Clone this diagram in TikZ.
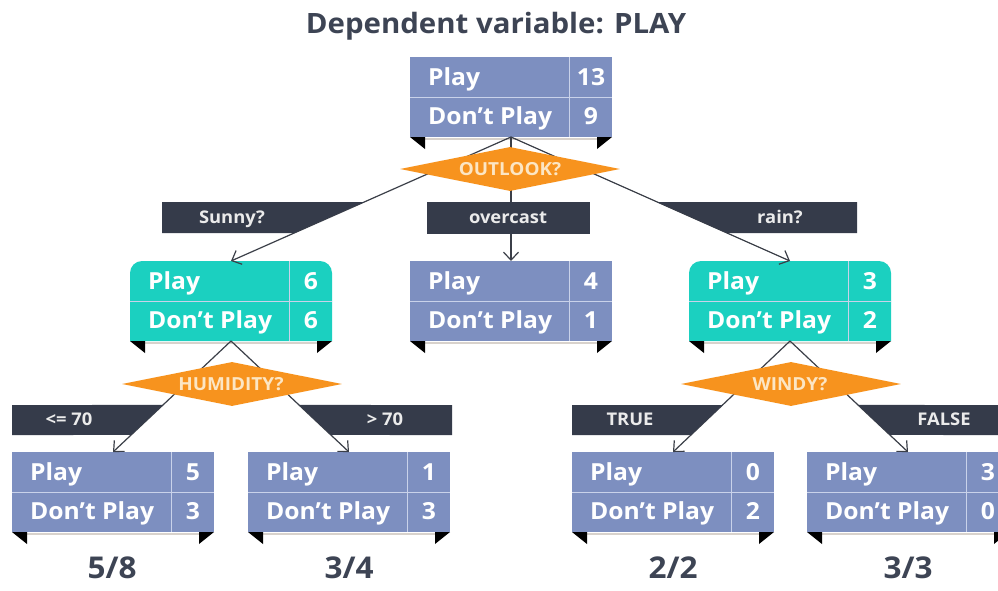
\documentclass[tikz,border=0pt]{standalone}
\usepackage{fontspec}
\setmainfont[FakeStretch=1.05]{Open Sans}
\usetikzlibrary{arrows.meta,shapes.geometric,calc}
\definecolor{boxblue}{HTML}{7D8FC0}
\definecolor{boxteal}{HTML}{1BD0C0}
\definecolor{decor}{HTML}{F7931E}
\definecolor{lab}{HTML}{353B4A}
\definecolor{ink}{HTML}{3D4454}
\definecolor{divl}{HTML}{C9D2EA}
\definecolor{cream}{HTML}{FCE6C4}
\definecolor{edgec}{HTML}{3B3F48}
\definecolor{shade}{HTML}{D8D2CC}
\tikzset{
  tbl/.style={rectangle, minimum width=202pt, minimum height=80pt, inner sep=0pt, outer sep=0pt},
  celltxt/.style={text=white, font=\bfseries\fontsize{23.5}{27}\selectfont, inner sep=0pt},
  labtxt/.style={text=white!92!black, font=\bfseries\fontsize{17.5}{20}\selectfont, inner sep=0pt, anchor=base},
  dectxt/.style={text=cream, font=\bfseries\fontsize{18}{20}\selectfont, inner sep=0pt, anchor=base},
  fractxt/.style={text=ink, font=\bfseries\fontsize{30}{34}\selectfont, inner sep=0pt, anchor=base},
  decision/.style={diamond, fill=decor, minimum width=220pt, minimum height=44pt, inner sep=0pt},
  conn/.style={draw=edgec, line width=1.2pt, -{Straight Barb[length=8pt,width=15pt]}},
  divline/.style={draw=divl, line width=0.8pt},
  shadowline/.style={draw=shade, line width=1.5pt},
}
\newcommand\ptab[7]{%
  \node[tbl] (#1) at (#2,#3) {};
  \fill[#6] (#1.south west) [#7] -- (#1.north west) -- (#1.north east) [sharp corners] -- (#1.south east) -- cycle;
  \draw[divline] (#1.west) -- (#1.east);
  \draw[divline] ($(#1.north east)+(-43,0)$) -- ($(#1.south east)+(-43,0)$);
  \draw[shadowline] ($(#1.south west)+(15,2)$) -- ($(#1.south east)+(-15,2)$);
  \fill[black] (#1.south west) -- ++(15,0) -- ++(0,12) -- cycle;
  \fill[black] (#1.south east) -- ++(-15,0) -- ++(0,12) -- cycle;
  \node[celltxt, anchor=base west] (#1-pl) at ($(#1.north west)+(18,28)$) {Play};
  \node[celltxt, anchor=base west] (#1-dp) at ($(#1.north west)+(18,67)$) {Don’t Play};
  \node[celltxt, anchor=base] (#1-na) at ($(#1.north east)+(-21,28)$) {#4};
  \node[celltxt, anchor=base] (#1-nb) at ($(#1.north east)+(-21,67)$) {#5};
}
\begin{document}
\begin{tikzpicture}[x=1pt,y=-1pt]
\fill[white] (0,0) rectangle (998,590);
\useasboundingbox (0,0) rectangle (998,590);
\clip (0,0) rectangle (998,590);

\node[text=ink, font=\bfseries\fontsize{28}{32}\selectfont, anchor=base, inner sep=0pt] (title) at (496,33) {Dependent variable: PLAY};

% tables
\ptab{root}{511}{97}{13}{9}{boxblue}{sharp corners}
\ptab{sunny}{231}{301}{6}{6}{boxteal}{rounded corners=12pt}
\ptab{over}{511}{301}{4}{1}{boxblue}{sharp corners}
\ptab{rain}{790}{301}{3}{2}{boxteal}{rounded corners=12pt}
\ptab{lo}{113}{492}{5}{3}{boxblue}{sharp corners}
\ptab{hi}{349}{492}{1}{3}{boxblue}{sharp corners}
\ptab{tr}{673}{492}{0}{2}{boxblue}{sharp corners}
\ptab{fa}{908}{492}{3}{0}{boxblue}{sharp corners}

% connectors
\draw[conn] (root.south) -- (sunny.north);
\draw[conn] (root.south) -- (over.north);
\draw[conn] (root.south) -- (rain.north);
\draw[conn] (sunny.south) -- (lo.north);
\draw[conn] (sunny.south) -- (hi.north);
\draw[conn] (rain.south) -- (tr.north);
\draw[conn] (rain.south) -- (fa.north);

% branch labels
\fill[lab] (162,202) -- (intersection of root.south--sunny.north and 0,202--1,202)
  -- (intersection of root.south--sunny.north and 0,233--1,233) -- (162,233) -- cycle;
\fill[lab] (427,202) rectangle (590,234);
\fill[lab] (857,202) -- (intersection of root.south--rain.north and 0,202--1,202)
  -- (intersection of root.south--rain.north and 0,233--1,233) -- (857,233) -- cycle;
\fill[lab] (12,405) -- (intersection of sunny.south--lo.north and 0,405--1,405)
  -- (intersection of sunny.south--lo.north and 0,435--1,435) -- (12,435) -- cycle;
\fill[lab] (452,405) -- (intersection of sunny.south--hi.north and 0,405--1,405)
  -- (intersection of sunny.south--hi.north and 0,435--1,435) -- (452,435) -- cycle;
\fill[lab] (572,405) -- (intersection of rain.south--tr.north and 0,405--1,405)
  -- (intersection of rain.south--tr.north and 0,435--1,435) -- (572,435) -- cycle;
\fill[lab] (1000,405) -- (intersection of rain.south--fa.north and 0,405--1,405)
  -- (intersection of rain.south--fa.north and 0,435--1,435) -- (1000,435) -- cycle;

\node[labtxt] (l-sunny) at (232,223) {Sunny?};
\node[labtxt] (l-over) at (508,223) {overcast};
\node[labtxt] (l-rain) at (780,223) {rain?};
\node[labtxt] (l-lo) at (69,425) {<= 70};
\node[labtxt] (l-hi) at (385,425) {> 70};
\node[labtxt] (l-tr) at (630,425) {TRUE};
\node[labtxt] (l-fa) at (944,425) {FALSE};

% decisions
\node[decision] (d-outlook) at (510,169) {};
\node[dectxt] (t-outlook) at (510,175) {OUTLOOK?};
\node[decision] (d-hum) at (232,384) {};
\node[dectxt] (t-hum) at (231,390) {HUMIDITY?};
\node[decision] (d-windy) at (791,384) {};
\node[dectxt] (t-windy) at (790,390) {WINDY?};

% fractions
\node[fractxt] (f-lo) at (112,578) {5/8};
\node[fractxt] (f-hi) at (349,578) {3/4};
\node[fractxt] (f-tr) at (673,578) {2/2};
\node[fractxt] (f-fa) at (908,578) {3/3};
\end{tikzpicture}
\end{document}
